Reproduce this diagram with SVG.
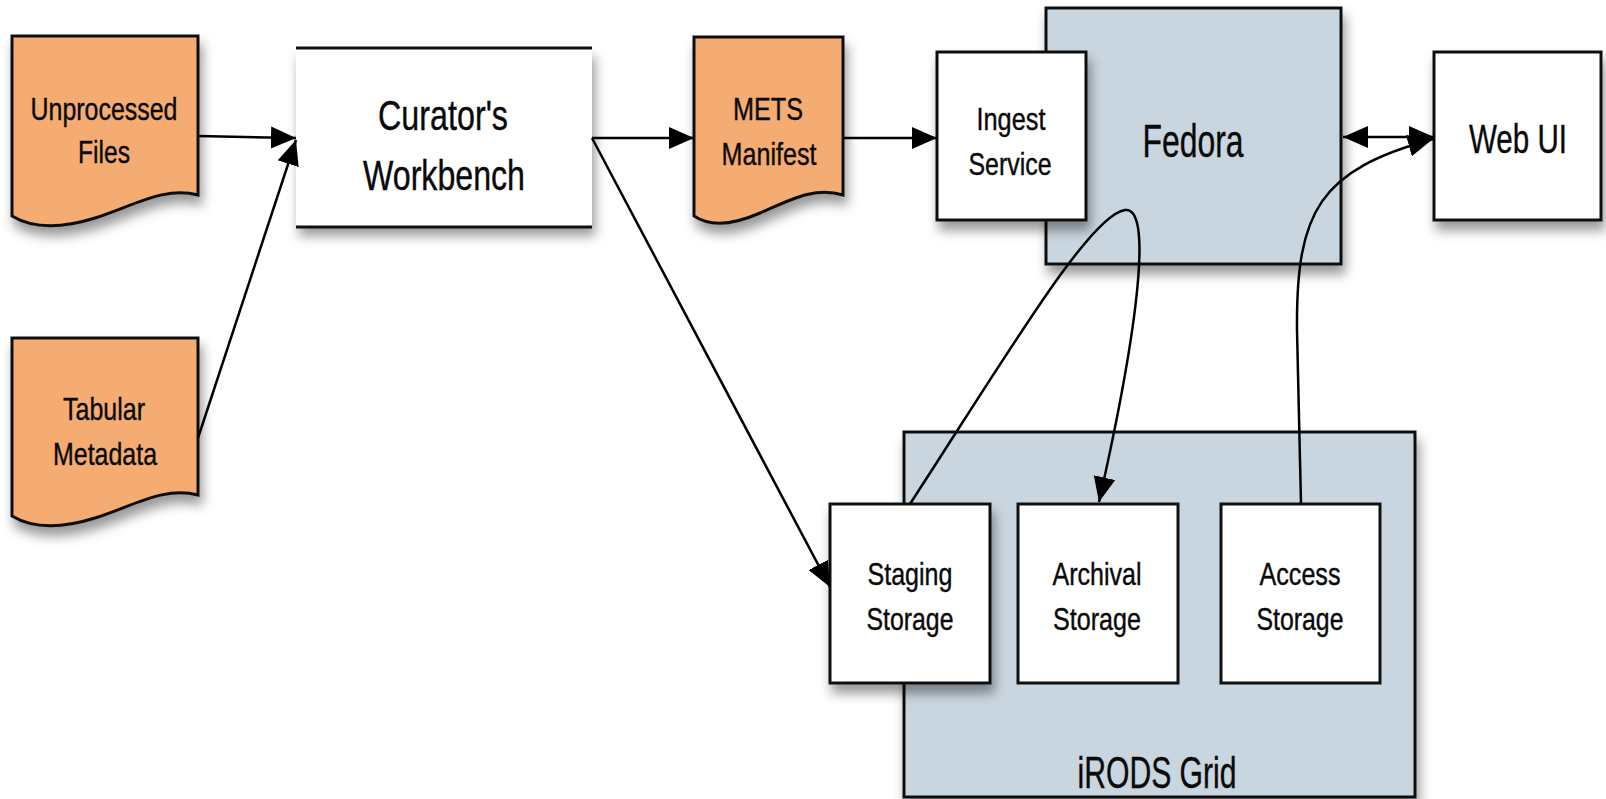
<svg xmlns="http://www.w3.org/2000/svg" width="1606" height="799" viewBox="0 0 1606 799">
  <style>
    .lbl { font-family: "Liberation Sans", Arial, sans-serif; fill: #0a0a0a; text-anchor: middle; stroke: #0a0a0a; stroke-width: 0.4; }
    .doc { fill: #F5AC72; stroke: #111; stroke-width: 3; }
    .box { fill: #FFFFFF; stroke: #111; stroke-width: 3; }
    .grp { fill: #CAD6DF; stroke: #111; stroke-width: 3; }
    .edge { fill: none; stroke: #000; stroke-width: 2.5; }
  </style>
  <defs>
    <filter id="sh" x="-20%" y="-20%" width="150%" height="160%">
      <feDropShadow dx="3" dy="9" stdDeviation="6" flood-color="#000" flood-opacity="0.4"/>
    </filter>
    <marker id="ah" markerUnits="userSpaceOnUse" markerWidth="26" markerHeight="24" refX="25" refY="12" orient="auto-start-reverse">
      <path d="M0,1 L25,12 L0,23 Z" fill="#000"/>
    </marker>
  </defs>
  <rect width="1606" height="799" fill="#FFFFFF"/>

  <g id="unprocessed-files">
    <path class="doc" filter="url(#sh)" d="M12,36 H198 V195 C165,186 135,205 95,218 C60,229 32,228 12,216 Z"/>
    <text class="lbl" x="104" y="120" font-size="32" textLength="147" lengthAdjust="spacingAndGlyphs">Unprocessed</text>
    <text class="lbl" x="104" y="163" font-size="32" textLength="52" lengthAdjust="spacingAndGlyphs">Files</text>
  </g>

  <g id="tabular-metadata">
    <path class="doc" filter="url(#sh)" d="M12,338 H198 V495 C165,486 135,505 95,518 C60,529 32,528 12,516 Z"/>
    <text class="lbl" x="104" y="420" font-size="32" textLength="82" lengthAdjust="spacingAndGlyphs">Tabular</text>
    <text class="lbl" x="105" y="465" font-size="32" textLength="104" lengthAdjust="spacingAndGlyphs">Metadata</text>
  </g>

  <g id="curators-workbench">
    <rect x="296" y="48" width="296" height="179" fill="#FFFFFF" filter="url(#sh)"/>
    <line x1="296" y1="48" x2="592" y2="48" stroke="#111" stroke-width="3"/>
    <line x1="296" y1="227" x2="592" y2="227" stroke="#111" stroke-width="3"/>
    <text class="lbl" x="443" y="130" font-size="42" textLength="130" lengthAdjust="spacingAndGlyphs">Curator's</text>
    <text class="lbl" x="444" y="190" font-size="42" textLength="162" lengthAdjust="spacingAndGlyphs">Workbench</text>
  </g>

  <g id="mets-manifest">
    <path class="doc" filter="url(#sh)" d="M694,37 H843 V195 C815,186 790,200 760,213 C735,224 712,228 694,216 Z"/>
    <text class="lbl" x="768" y="120" font-size="32" textLength="70" lengthAdjust="spacingAndGlyphs">METS</text>
    <text class="lbl" x="769" y="165" font-size="32" textLength="95" lengthAdjust="spacingAndGlyphs">Manifest</text>
  </g>

  <g id="fedora">
    <rect class="grp" x="1046" y="8" width="295" height="256" filter="url(#sh)"/>
    <text class="lbl" x="1193" y="157" font-size="46" textLength="101" lengthAdjust="spacingAndGlyphs">Fedora</text>
  </g>

  <g id="ingest-service">
    <rect class="box" x="937" y="52" width="149" height="168" filter="url(#sh)"/>
    <text class="lbl" x="1011" y="130" font-size="32" textLength="69" lengthAdjust="spacingAndGlyphs">Ingest</text>
    <text class="lbl" x="1010" y="175" font-size="32" textLength="83" lengthAdjust="spacingAndGlyphs">Service</text>
  </g>

  <g id="web-ui">
    <rect class="box" x="1434" y="52" width="167" height="168" filter="url(#sh)"/>
    <text class="lbl" x="1518" y="153" font-size="40" textLength="98" lengthAdjust="spacingAndGlyphs">Web UI</text>
  </g>

  <g id="irods-grid">
    <rect class="grp" x="904" y="432" width="511" height="365" filter="url(#sh)"/>
    <text class="lbl" x="1157" y="788" font-size="44" textLength="159" lengthAdjust="spacingAndGlyphs">iRODS Grid</text>
  </g>

  <g id="staging-storage">
    <rect class="box" x="830" y="504" width="160" height="179" filter="url(#sh)"/>
    <text class="lbl" x="910" y="585" font-size="32" textLength="85" lengthAdjust="spacingAndGlyphs">Staging</text>
    <text class="lbl" x="910" y="630" font-size="32" textLength="87" lengthAdjust="spacingAndGlyphs">Storage</text>
  </g>

  <g id="archival-storage">
    <rect class="box" x="1018" y="504" width="160" height="179"/>
    <text class="lbl" x="1097" y="585" font-size="32" textLength="89" lengthAdjust="spacingAndGlyphs">Archival</text>
    <text class="lbl" x="1097" y="630" font-size="32" textLength="88" lengthAdjust="spacingAndGlyphs">Storage</text>
  </g>

  <g id="access-storage">
    <rect class="box" x="1221" y="504" width="159" height="179"/>
    <text class="lbl" x="1300" y="585" font-size="32" textLength="81" lengthAdjust="spacingAndGlyphs">Access</text>
    <text class="lbl" x="1300" y="630" font-size="32" textLength="87" lengthAdjust="spacingAndGlyphs">Storage</text>
  </g>

  <g id="connectors">
    <path class="edge" marker-end="url(#ah)" d="M198,136 L296,138"/>
    <path class="edge" marker-end="url(#ah)" d="M198,438 L296,140"/>
    <path class="edge" marker-end="url(#ah)" d="M592,138 L694,138"/>
    <path class="edge" marker-end="url(#ah)" d="M592,138 L830,587"/>
    <path class="edge" marker-end="url(#ah)" d="M843,138 L937,138"/>
    <path class="edge" marker-start="url(#ah)" marker-end="url(#ah)" d="M1343,137 L1434,137"/>
    <path class="edge" marker-end="url(#ah)" d="M910,504 C1010,350 1090,215 1125,210 C1152,206 1140,320 1099,502"/>
    <path class="edge" marker-end="url(#ah)" d="M1301,504 L1297,330 C1296,210 1320,170 1433,139"/>
  </g>
</svg>
